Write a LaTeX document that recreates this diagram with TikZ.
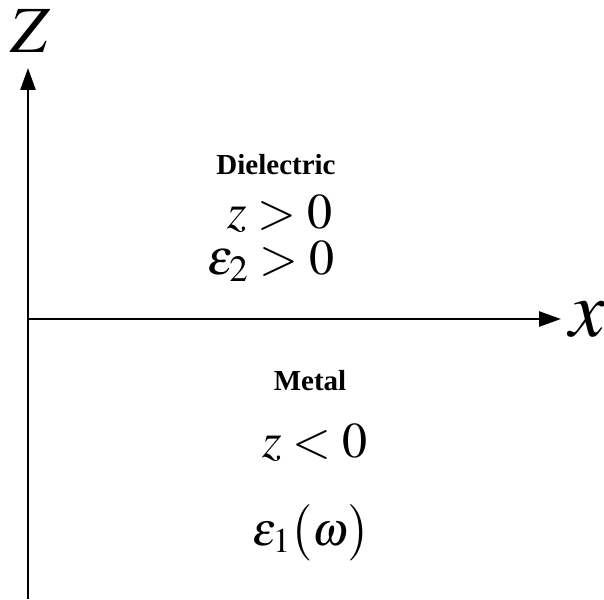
\documentclass[tikz,border=0pt]{standalone}
\usepackage{mathptmx}
\usepackage[no-math]{fontspec}
\setmainfont{Liberation Serif}
\usepackage{tikz}
\usetikzlibrary{arrows.meta}
\tikzset{
  axis/.style={line width=2.6pt, -{Triangle[length=22pt, width=15pt]}},
  region/.style={font=\fontsize{29}{32}\selectfont\bfseries, anchor=base, inner sep=0pt},
  cond/.style={anchor=base, inner sep=0pt}
}

\begin{document}
\begin{tikzpicture}[x=1pt, y=-1pt]
    \useasboundingbox (0,0) rectangle (604,599);
    \coordinate (o) at (28,319);
    \coordinate (zbot) at (28,599);
    \coordinate (ztop) at (28,68);
    \coordinate (xend) at (561,319);

    % axes
    \draw[axis] (zbot) -- (ztop);
    \draw[axis] (o) -- (xend);
    \node (zlab) at (30,31) {\fontsize{66}{66}\selectfont $Z$};
    \node (xlab) at (587,320) {\fontsize{80}{80}\selectfont $x$};

    % upper half
    \node[region] (diel) at (276,174) {Dielectric};
    \node[cond] (zpos) at (280,228) {\fontsize{50}{50}\selectfont $z>0$};
    \node[cond] (epstwo) at (271,274) {\fontsize{50}{50}\selectfont $\varepsilon_2>0$};

    % lower half
    \node[region] (metal) at (310,390) {Metal};
    \node[cond] (zneg) at (315,457) {\fontsize{50}{50}\selectfont $z<0$};
    \node[cond] (epsone) at (311,545) {\fontsize{47}{47}\selectfont $\varepsilon_1\bigl(\omega\bigr)$};
  \end{tikzpicture}
\end{document}
